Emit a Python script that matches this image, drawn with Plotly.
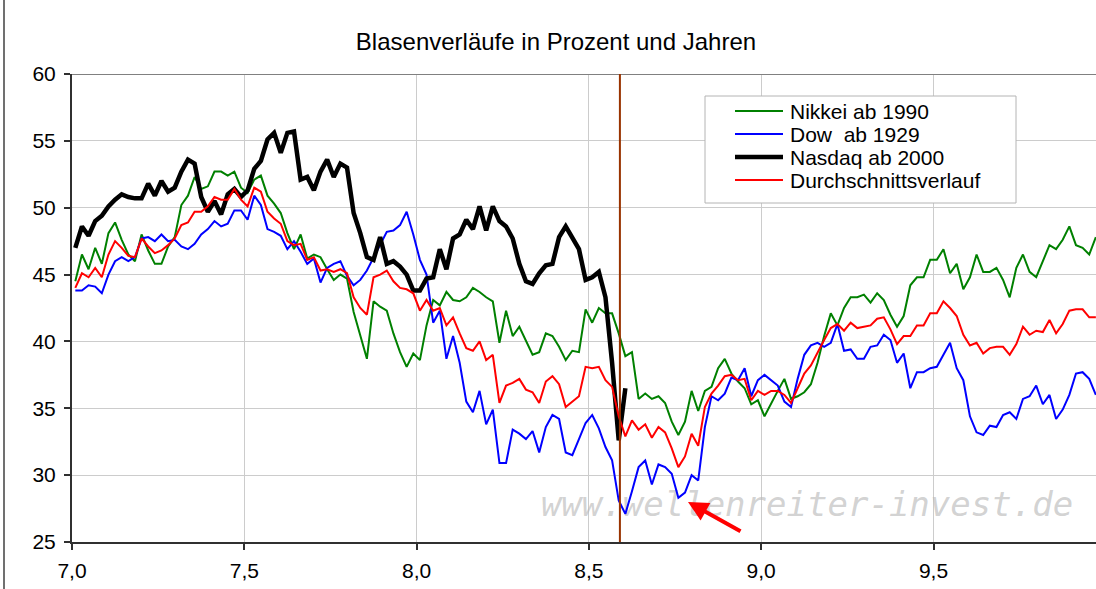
import numpy as np
import plotly.graph_objects as go

# ---------------- data ----------------
chart_title = "Blasenverläufe in Prozent und Jahren"
series_names = ["Nikkei ab 1990", "Dow\u00a0 ab 1929", "Nasdaq ab 2000", "Durchschnittsverlauf"]
series_colors = ["#008000", "#0000FF", "#000000", "#FF0000"]

weeks = np.arange(155)                 # weekly observations
years = 7 + (weeks + 0.5) / 52         # time in years since start of bubble

nikkei = [44.5, 46.5, 45.4, 47.0, 45.8, 48.1, 48.9, 47.6, 46.5, 46.0,
          48.0, 46.8, 45.8, 45.8, 47.1, 47.8, 50.2, 50.9, 52.3, 51.4,
          51.6, 52.7, 52.7, 52.4, 52.7, 51.5, 51.1, 52.1, 52.4, 50.9,
          50.3, 49.6, 48.1, 46.9, 48.0, 46.2, 46.5, 46.3, 45.4, 44.6,
          45.0, 44.7, 42.2, 40.5, 38.7, 43.0, 42.6, 42.3, 40.6, 39.2,
          38.1, 39.1, 38.6, 41.2, 43.1, 42.7, 43.7, 43.1, 43.0, 43.3,
          44.0, 43.7, 43.3, 43.0, 39.9, 42.3, 40.4, 41.1, 40.1, 39.0,
          39.2, 40.6, 40.4, 39.6, 38.6, 39.3, 39.2, 42.4, 41.4, 42.5,
          42.1, 42.1, 40.6, 38.9, 39.2, 35.7, 36.1, 35.7, 35.9, 35.4,
          34.0, 33.0, 34.0, 36.3, 34.8, 36.3, 36.6, 38.0, 38.7, 37.6,
          37.0, 36.5, 35.3, 35.6, 34.4, 35.4, 36.3, 37.2, 35.7, 35.9,
          36.2, 36.8, 38.4, 40.4, 42.1, 41.2, 42.5, 43.3, 43.3, 43.5,
          42.9, 43.6, 43.1, 42.0, 41.1, 41.9, 44.2, 44.8, 44.8, 46.1,
          46.1, 46.9, 45.1, 45.8, 43.9, 44.8, 46.5, 45.2, 45.2, 45.5,
          44.6, 43.3, 45.5, 46.5, 45.2, 44.8, 46.0, 47.2, 46.9, 47.6,
          48.6, 47.2, 47.0, 46.5, 47.8]

dow = [43.8, 43.8, 44.2, 44.1, 43.6, 45.0, 46.0, 46.3, 46.0, 46.3,
       47.7, 47.8, 47.5, 48.0, 47.5, 47.6, 47.1, 46.9, 47.3, 48.0,
       48.4, 49.0, 48.6, 48.8, 49.8, 49.8, 49.1, 50.9, 50.2, 48.4,
       48.2, 47.9, 46.9, 47.5, 46.7, 45.8, 46.2, 44.4, 45.5, 45.8,
       46.0, 44.9, 44.2, 44.6, 45.3, 46.3, 47.3, 48.2, 48.3, 48.7,
       49.7, 48.0, 46.1, 45.0, 41.4, 42.3, 38.7, 40.4, 38.4, 35.5,
       34.7, 36.3, 33.8, 34.9, 30.9, 30.9, 33.4, 33.1, 32.7, 33.3,
       31.7, 33.6, 34.5, 34.2, 31.7, 31.5, 32.7, 33.9, 34.5, 33.5,
       32.1, 31.1, 28.1, 27.1, 28.8, 30.6, 31.1, 29.3, 30.8, 30.6,
       30.1, 28.3, 28.7, 30.0, 29.6, 33.6, 35.9, 35.6, 36.1, 37.3,
       37.1, 38.0, 35.9, 37.1, 37.5, 37.1, 36.7, 35.5, 35.1, 37.2,
       39.0, 39.7, 39.9, 39.6, 39.9, 41.3, 39.3, 39.4, 38.7, 38.7,
       39.6, 39.7, 40.5, 40.1, 38.4, 39.1, 36.5, 37.7, 37.7, 38.0,
       38.1, 39.0, 39.9, 38.0, 37.1, 34.4, 33.2, 33.0, 33.7, 33.6,
       34.5, 34.7, 34.2, 35.7, 35.9, 36.7, 35.3, 36.0, 34.2, 34.9,
       36.0, 37.6, 37.7, 37.2, 36.0]

nasdaq = [47.0, 48.6, 47.9, 49.0, 49.4, 50.1, 50.6, 51.0, 50.8, 50.7,
          50.7, 51.8, 50.9, 52.0, 51.2, 51.5, 52.7, 53.6, 53.3, 50.8,
          49.7, 50.5, 49.5, 51.0, 51.4, 50.8, 51.3, 52.9, 53.5, 55.1,
          55.6, 54.1, 55.6, 55.7, 52.1, 52.3, 51.3, 52.7, 53.6, 52.3,
          53.3, 53.0, 49.6, 48.1, 46.3, 46.1, 47.8, 45.8, 46.0, 45.6,
          45.0, 43.8, 43.8, 44.7, 44.8, 46.9, 45.4, 47.7, 48.0, 49.1,
          48.4, 50.1, 48.3, 50.1, 49.0, 48.6, 47.7, 45.8, 44.5, 44.3,
          45.1, 45.7, 45.8, 47.8, 48.6, 47.8, 46.9, 44.6, 44.8, 45.2,
          43.3, 38.4, 32.6, 36.5]

average = [44.0, 45.1, 44.8, 45.5, 44.8, 46.5, 47.5, 47.0, 46.4, 46.3,
           47.7, 47.1, 46.6, 46.8, 47.2, 47.7, 48.7, 48.9, 49.7, 49.7,
           50.1, 50.8, 50.6, 50.6, 51.4, 50.6, 50.1, 51.5, 51.2, 49.7,
           49.2, 48.8, 47.5, 47.2, 47.3, 46.1, 46.3, 45.3, 45.4, 45.2,
           45.4, 45.1, 43.3, 42.5, 42.0, 44.8, 45.0, 45.3, 44.5, 44.0,
           43.9, 43.6, 42.3, 43.1, 42.3, 42.5, 41.2, 41.8, 40.6, 39.5,
           39.3, 40.0, 38.6, 39.0, 35.4, 36.7, 36.9, 37.2, 36.4, 36.2,
           35.4, 37.0, 37.4, 36.8, 35.1, 35.5, 35.9, 38.1, 38.0, 38.1,
           37.1, 36.6, 34.4, 32.9, 34.1, 33.4, 33.8, 32.8, 33.6, 33.2,
           32.0, 30.6, 31.4, 33.1, 32.2, 35.1, 36.1, 36.7, 37.4, 37.5,
           37.1, 37.2, 35.6, 36.3, 36.0, 36.3, 36.3, 36.0, 35.4, 36.5,
           37.6, 38.2, 39.2, 40.1, 41.0, 41.3, 40.8, 41.4, 41.0, 41.1,
           41.2, 41.7, 41.8, 40.9, 39.8, 40.4, 40.4, 41.2, 41.2, 42.1,
           42.1, 43.0, 42.5, 41.9, 40.5, 39.7, 39.9, 39.1, 39.5, 39.6,
           39.6, 39.0, 39.8, 41.1, 40.5, 40.8, 40.7, 41.6, 40.6, 41.3,
           42.3, 42.4, 42.4, 41.8, 41.8]

x_tick_vals = [7.0, 7.5, 8.0, 8.5, 9.0, 9.5]
x_tick_text = ["7,0", "7,5", "8,0", "8,5", "9,0", "9,5"]
y_tick_vals = [25, 30, 35, 40, 45, 50, 55, 60]

marker_year = 8.59          # vertical "today" line
watermark = "www.wellenreiter-invest.de"

# ---------------- layout geometry (pixels) ----------------
W, H = 1096, 589
L, R, T, B = 72, 0, 74, 47
PW, PH = W - L - R, H - T - B
x_min = 7.0
x_max = 7.0 + PW / 344.6


def px(xp):
    return (xp - L) / PW


def py(yp):
    return (H - B - yp) / PH


FONT = "Liberation Sans, Arial, sans-serif"

fig = go.Figure()

# watermark drawn first so the lines lie on top of it
fig.add_trace(go.Scatter(
    x=[x_min + (807 - L) / 344.6], y=[60 - (507 - T) / 13.37],
    mode="text", text=[watermark],
    textfont=dict(family="DejaVu Sans Mono", size=34, color="rgba(185,185,185,0.65)", style="italic"),
    showlegend=False, hoverinfo="skip"))

data_series = [nikkei, dow, nasdaq, average]
widths = [2, 2, 4.5, 2]
for name, vals, col, w in zip(series_names, data_series, series_colors, widths):
    fig.add_trace(go.Scatter(
        x=years[:len(vals)], y=vals, mode="lines", name=name,
        line=dict(color=col, width=w), showlegend=False))

shapes = []
# top border of plot area
shapes.append(dict(type="line", xref="paper", yref="y", x0=0, x1=1, y0=60, y1=60,
                   line=dict(color="#808080", width=2), layer="above"))
# vertical marker line
shapes.append(dict(type="line", xref="x", yref="paper", x0=marker_year, x1=marker_year,
                   y0=0, y1=1, line=dict(color="#993300", width=2), layer="above"))
# legend box
shapes.append(dict(type="rect", xref="paper", yref="paper",
                   x0=px(705), x1=px(1016), y0=py(203), y1=py(96),
                   fillcolor="white", line=dict(color="#b4b4b4", width=1), layer="above"))
annotations = []
row_y = [111, 134, 157, 180]
for name, col, w, ry in zip(series_names, series_colors, widths, row_y):
    shapes.append(dict(type="line", xref="paper", yref="paper",
                       x0=px(735), x1=px(783), y0=py(ry), y1=py(ry),
                       line=dict(color=col, width=w), layer="above"))
    annotations.append(dict(xref="paper", yref="paper", x=px(788), y=py(ry),
                            xanchor="left", yanchor="middle", text=name, showarrow=False,
                            font=dict(family=FONT, size=21, color="black")))

# red arrow pointing at the Dow low
annotations.append(dict(xref="x", yref="y", x=x_min + (688 - L) / 344.6, y=60 - (502 - T) / 13.37,
                        ax=54, ay=30, text="", showarrow=True, arrowhead=2, arrowsize=1,
                        arrowwidth=4, arrowcolor="#FF0000"))

# outer chart frame (left edge visible)
shapes.append(dict(type="line", xref="paper", yref="paper", x0=px(4), x1=px(4),
                   y0=py(0), y1=py(589), line=dict(color="#404040", width=1.5), layer="above"))

fig.update_layout(
    width=W, height=H,
    margin=dict(l=L, r=R, t=T, b=B),
    paper_bgcolor="white", plot_bgcolor="white",
    separators=",.",
    showlegend=False,
    title=dict(text=chart_title, x=556 / W, xanchor="center", y=1 - 42 / H, yanchor="middle",
               font=dict(family=FONT, size=24, color="black")),
    shapes=shapes, annotations=annotations,
    xaxis=dict(range=[x_min, x_max], tickvals=x_tick_vals, ticktext=x_tick_text,
               showgrid=True, gridcolor="#cccccc", gridwidth=1,
               showline=True, linecolor="#303030", linewidth=2,
               ticks="outside", ticklen=6, tickwidth=1.5, tickcolor="#303030",
               tickfont=dict(family=FONT, size=21, color="black"),
               ticklabelstandoff=3, zeroline=False, fixedrange=True),
    yaxis=dict(range=[25, 60], tickvals=y_tick_vals,
               showgrid=True, gridcolor="#cccccc", gridwidth=1,
               showline=True, linecolor="#303030", linewidth=2,
               ticks="outside", ticklen=6, tickwidth=1.5, tickcolor="#303030",
               tickfont=dict(family=FONT, size=21, color="black"),
               ticklabelstandoff=4, zeroline=False, fixedrange=True),
)

fig.write_html("out.html", config={"displayModeBar": False},
               post_script="document.body.style.margin='0px';document.body.style.overflow='hidden';")
